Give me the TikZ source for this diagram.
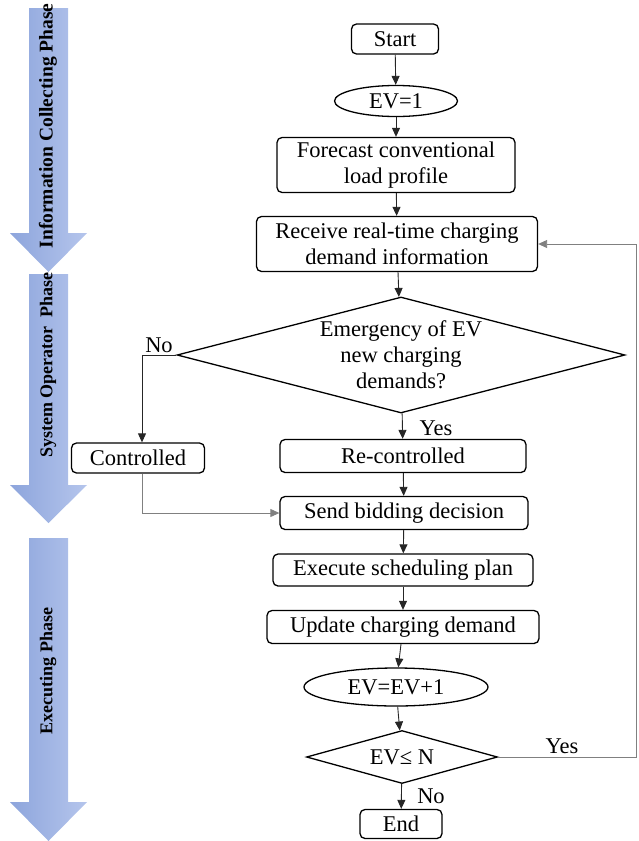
\documentclass[tikz,border=0pt]{standalone}
\usepackage{fontspec}
\setmainfont{Liberation Serif}
\usetikzlibrary{shapes.geometric,arrows.meta}
\definecolor{phaseleft}{HTML}{8DA5DC}
\definecolor{phaseright}{HTML}{B5C5EC}
\begin{document}
\begin{tikzpicture}[x=1pt,y=-1pt,
        font=\fontsize{22.5}{26}\selectfont,
        box/.style={draw,line width=1.3pt,rounded corners=5pt,inner sep=0pt,align=center},
        oval/.style={draw,line width=1.3pt,ellipse,inner sep=0pt},
        choice/.style={draw,line width=1.3pt,diamond,inner sep=0pt},
        arr/.style={line width=0.9pt,draw=black!85,-{Triangle[length=9pt,width=8pt]}},
        phase/.style={left color=phaseleft,right color=phaseright},
        phasetext/.style={rotate=90,font=\fontsize{18}{20}\selectfont\bfseries}]
                \useasboundingbox (0,0) rectangle (638,841);

                \foreach \top/\neck/\tip in {8/233/272,274/485/523,538/802/841}
                    \shade[phase] (29,\top) -- (68,\top) -- (68,\neck) -- (87,\neck) -- (48.5,\tip) -- (10,\neck) -- (29,\neck) -- cycle;
                \node[phasetext,font=\fontsize{19.5}{20}\selectfont\bfseries] (infophase) at (48,126) {Information Collecting Phase};
                \node[phasetext] (sysphase) at (48,365) {System Operator~~Phase};
                \node[phasetext] (execphase) at (48,671) {Executing Phase};

                \node[box,minimum width=87pt,minimum height=30pt] (start) at (395,39) {Start};
                \node[oval,minimum width=123pt,minimum height=31pt] (ev1) at (396,101) {EV=1};
                \node[box,minimum width=238pt,minimum height=55pt] (forecast) at (396,165) {Forecast conventional\\load profile};
                \node[box,minimum width=281pt,minimum height=55pt] (receive) at (397,244) {Receive real-time charging\\demand information};
                \node[choice,minimum width=448pt,minimum height=116pt,
                    label={[align=center,name=emergtext]center:Emergency of EV\\new charging\\demands?}] (emerg) at (401,355) {};
                \node[box,minimum width=133pt,minimum height=30pt] (controlled) at (138,458) {Controlled};
                \node[box,minimum width=246pt,minimum height=33pt] (recontrolled) at (403,456) {Re-controlled};
                \node[box,minimum width=248pt,minimum height=33pt] (send) at (404,513) {Send bidding decision};
                \node[box,minimum width=260pt,minimum height=32pt] (execute) at (403,570) {Execute scheduling plan};
                \node[box,minimum width=272pt,minimum height=33pt] (update) at (403,627) {Update charging demand};
                \node[oval,minimum width=184pt,minimum height=38pt] (evinc) at (396,687) {EV=EV+1};
                \node[choice,aspect=3.6,minimum width=191pt,minimum height=53pt] (check) at (402,757) {EV≤ N};
                \node[box,minimum width=82pt,minimum height=29pt] (stop) at (401,824) {End};
                \coordinate (loop) at (636,757);

                \node (nolabel) at (159,345) {No};
                \node (yeslabel) at (436,428) {Yes};
                \node (yesloop) at (562,746) {Yes};
                \node (noend) at (431,796) {No};

                \draw[arr] (start) -- (ev1);
                \draw[arr] (ev1) -- (forecast);
                \draw[arr] (forecast) -- (receive);
                \draw[arr] (receive) -- (emerg);
                \draw[arr] (emerg) -- (recontrolled);
                \draw[arr] (emerg.west) -| ([xshift=4pt]controlled.north);
                \draw[arr,draw=gray] ([xshift=4pt]controlled.south) |- (send);
                \draw[arr] (recontrolled) -- (send);
                \draw[arr] (send) -- (execute);
                \draw[arr] (execute) -- (update);
                \draw[arr] (update) -- (evinc);
                \draw[arr] (evinc) -- (check);
                \draw[arr] (check) -- (stop);
                \draw[arr,draw=gray] (check.east) -- (loop) |- (receive.east);
            \end{tikzpicture}
\end{document}
